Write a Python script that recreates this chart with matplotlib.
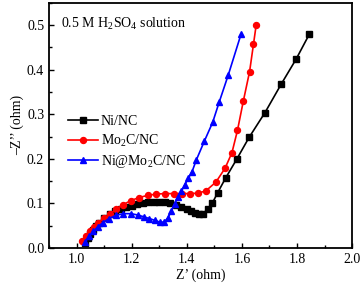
import matplotlib
matplotlib.use("Agg")
import matplotlib.pyplot as plt
from matplotlib.ticker import MultipleLocator

plt.rcParams['font.family'] = ['Liberation Serif', 'DejaVu Serif']
plt.rcParams['mathtext.fontset'] = 'custom'
plt.rcParams['mathtext.rm'] = 'Liberation Serif'

# Ni/NC
ni_x = [1.03, 1.04, 1.05, 1.06, 1.07, 1.08, 1.10, 1.12, 1.14, 1.16, 1.18, 1.20,
        1.22, 1.24, 1.26, 1.28, 1.30, 1.32, 1.34, 1.36, 1.38, 1.40, 1.415, 1.43,
        1.445, 1.46, 1.476, 1.493, 1.512, 1.541, 1.582, 1.626, 1.684, 1.743,
        1.797, 1.845]
ni_y = [0.012, 0.022, 0.032, 0.041, 0.049, 0.056, 0.067, 0.076, 0.083, 0.088,
        0.092, 0.095, 0.098, 0.101, 0.103, 0.104, 0.104, 0.103, 0.101, 0.097,
        0.092, 0.087, 0.082, 0.078, 0.076, 0.077, 0.088, 0.101, 0.124, 0.157,
        0.200, 0.248, 0.304, 0.368, 0.424, 0.480]

# Mo2C/NC
mo_x = [1.018, 1.033, 1.048, 1.063, 1.079, 1.100, 1.120, 1.144, 1.168, 1.196,
        1.226, 1.258, 1.290, 1.322, 1.352, 1.382, 1.412, 1.440, 1.469, 1.506,
        1.539, 1.564, 1.584, 1.605, 1.628, 1.642, 1.652]
mo_y = [0.016, 0.027, 0.037, 0.048, 0.057, 0.067, 0.076, 0.087, 0.097, 0.106,
        0.113, 0.118, 0.121, 0.122, 0.122, 0.122, 0.122, 0.123, 0.128, 0.148,
        0.179, 0.214, 0.264, 0.329, 0.396, 0.457, 0.501]

# Ni@Mo2C/NC
nimo_x = [1.031, 1.046, 1.061, 1.078, 1.096, 1.118, 1.142, 1.170, 1.198, 1.222,
          1.244, 1.264, 1.284, 1.302, 1.318, 1.332, 1.344, 1.356, 1.368, 1.380,
          1.393, 1.406, 1.419, 1.435, 1.464, 1.494, 1.518, 1.551, 1.597]
nimo_y = [0.013, 0.026, 0.037, 0.048, 0.057, 0.066, 0.073, 0.077, 0.077, 0.074,
          0.070, 0.066, 0.062, 0.058, 0.058, 0.068, 0.083, 0.099, 0.114, 0.127,
          0.142, 0.157, 0.171, 0.198, 0.240, 0.282, 0.328, 0.389, 0.480]

fig = plt.figure(figsize=(3.63, 2.89), dpi=100)
ax = fig.add_axes([0.135, 0.142, 0.835, 0.848])

ax.plot(ni_x, ni_y, color='black', marker='s', markersize=3.8, lw=1.2, label='Ni/NC')
ax.plot(mo_x, mo_y, color='red', marker='o', markersize=4.3, lw=1.2, label='Mo$_2$C/NC')
ax.plot(nimo_x, nimo_y, color='blue', marker='^', markersize=4.3, lw=1.2, label='Ni@Mo$_2$C/NC')

ax.set_xlim(0.9, 2.0)
ax.set_ylim(0, 0.55)
ax.xaxis.set_major_locator(MultipleLocator(0.2))
ax.xaxis.set_minor_locator(MultipleLocator(0.1))
ax.yaxis.set_major_locator(MultipleLocator(0.1))
ax.yaxis.set_minor_locator(MultipleLocator(0.05))
ax.tick_params(which='both', direction='in', labelsize=10, width=1)
ax.tick_params(which='major', length=3.5)
ax.tick_params(which='minor', length=2)
for s in ax.spines.values():
    s.set_linewidth(1.3)

ax.set_xlabel('Z\u2019 (ohm)', fontsize=10, labelpad=2)
ax.set_ylabel('\u2013Z\u2019\u2019 (ohm)', fontsize=10, labelpad=2)

ax.text(0.04, 0.915, '0.5 M H$_2$SO$_4$ solution', transform=ax.transAxes, fontsize=10,
        va='center', ha='left')

ax.legend(loc='center left', bbox_to_anchor=(0.02, 0.43), frameon=False, fontsize=10,
          handlelength=2.2, handletextpad=0.2, labelspacing=0.3, borderaxespad=0.5)

fig.savefig('out.png', dpi=100)
